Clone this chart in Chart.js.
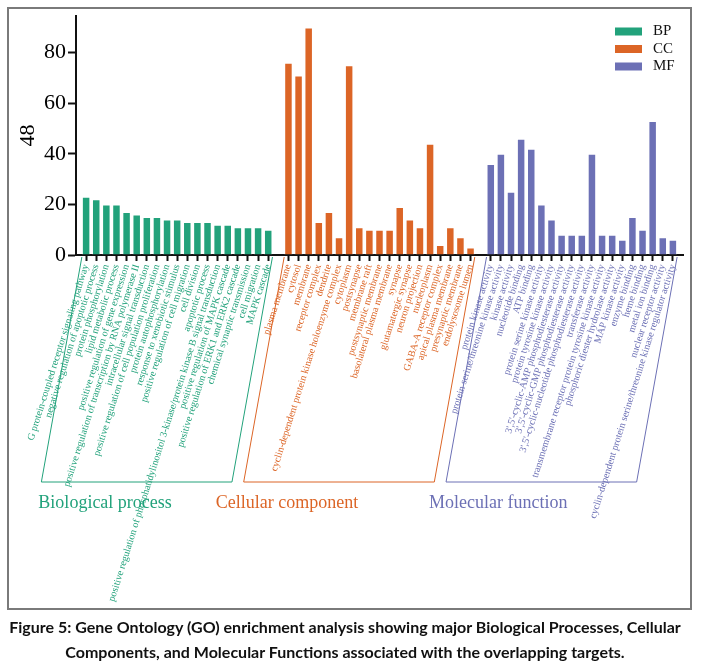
<!DOCTYPE html>
<html>
<head>
<meta charset="utf-8">
<script src="https://cdn.jsdelivr.net/npm/chart.js@4.4.1/dist/chart.umd.min.js"></script>
<style>
  body { margin: 0; background: #fff; width: 702px; height: 671px; position: relative; overflow: hidden; }
  #frame { position: absolute; left: 7px; top: 7px; width: 681px; height: 599px; border: 2px solid #7a7a7a; }
  #graf { position: absolute; left: 0; top: 0; }
  #caption { position: absolute; left: -6px; top: 614px; width: 702px; text-align: center;
             font-family: Lato, "Open Sans", sans-serif; font-weight: bold; font-size: 16px; line-height: 25px; color: #111; }
</style>
</head>
<body>
<div id="frame"></div>
<canvas id="graf" width="702" height="671"></canvas>
<div id="caption">Figure 5: Gene Ontology (GO) enrichment analysis showing major Biological Processes, Cellular<br>Components, and Molecular Functions associated with the overlapping targets.</div>
<script>
// terminos GO y conteos por grupo
const bpTerms = ["G protein-coupled receptor signaling pathway","negative regulation of apoptotic process","protein phosphorylation","lipid metabolic process","positive regulation of gene expression","positive regulation of transcription by RNA polymerase II","intracellular signal transduction","positive regulation of cell population proliferation","protein autophosphorylation","response to xenobiotic stimulus","positive regulation of cell migration","cell division","apoptotic process","positive regulation of phosphatidylinositol 3-kinase/protein kinase B signal transduction","positive regulation of MAPK cascade","positive regulation of ERK1 and ERK2 cascade","chemical synaptic transmission","cell migration","MAPK cascade"]
const bpCounts = [23,22,20,20,17,16,15,15,14,14,13,13,13,12,12,11,11,11,10]

const ccTerms = ["plasma membrane","cytosol","membrane","receptor complex","dendrite","cyclin-dependent protein kinase holoenzyme complex","cytoplasm","postsynapse","membrane raft","postsynaptic membrane","basolateral plasma membrane","synapse","glutamatergic synapse","neuron projection","nucleoplasm","GABA-A receptor complex","apical plasma membrane","presynaptic membrane","endolysosome lumen"]
const ccCounts = [76,71,90,13,17,7,75,11,10,10,10,19,14,11,44,4,11,7,3]

const mfTerms = ["protein kinase activity","protein serine/threonine kinase activity","kinase activity","nucleotide binding","ATP binding","protein serine kinase activity","protein tyrosine kinase activity","3',5'-cyclic-AMP phosphodiesterase activity","3',5'-cyclic-GMP phosphodiesterase activity","3',5'-cyclic-nucleotide phosphodiesterase activity","transferase activity","transmembrane receptor protein tyrosine kinase activity","phosphoric diester hydrolase activity","MAP kinase activity","enzyme binding","heme binding","metal ion binding","nuclear receptor activity","cyclin-dependent protein serine/threonine kinase regulator activity"]
const mfCounts = [36,40,25,46,42,20,14,8,8,8,40,8,8,6,15,10,53,7,6]

const grupos = ['BP','CC','MF']
const nombres = ['Biological process','Cellular component','Molecular function']
const colores = ['#22a27b','#dc6526','#6c70b5']
const yTicks = [0,20,40,60,80]
const yTitulo = '48'

// armar etiquetas con huecos entre grupos
const labels = ['']
const grupoDe = [-1]
const valores = [[null],[null],[null]]
;[[bpTerms,bpCounts],[ccTerms,ccCounts],[mfTerms,mfCounts]].forEach(([t,c],g) => {
    t.forEach((term,i) => {
        labels.push(term)
        grupoDe.push(g)
        for (let k = 0; k < 3; k++) valores[k].push(k === g ? c[i] : null)
    })
    labels.push('')
    grupoDe.push(-1)
    for (let k = 0; k < 3; k++) valores[k].push(null)
})

// cajas inclinadas y titulos de grupo
const cajasPlugin = {
    id: 'cajas',
    afterDraw(chart) {
        const ctx = chart.ctx
        const area = chart.chartArea
        const topY = area.bottom + 2
        const botY = 482
        const shift = 40.5
        const offTitulo = [-3, -28, -17]
        grupos.forEach((g,gi) => {
            const idx = grupoDe.map((v,i) => v === gi ? i : -1).filter(i => i >= 0)
            const meta = chart.getDatasetMeta(gi)
            const b0 = meta.data[idx[0]], b1 = meta.data[idx[idx.length-1]]
            const x0 = b0.x - b0.width/2, x1 = b1.x + b1.width/2
            ctx.save()
            ctx.strokeStyle = colores[gi]
            ctx.lineWidth = 1
            ctx.beginPath()
            ctx.moveTo(x0, topY)
            ctx.lineTo(x0 - shift, botY)
            ctx.lineTo(x1 - shift, botY)
            ctx.lineTo(x1, topY)
            ctx.stroke()
            ctx.fillStyle = colores[gi]
            ctx.font = '18px "Liberation Serif", "Times New Roman", serif'
            ctx.textBaseline = 'middle'
            ctx.textAlign = 'left'
            ctx.fillText(nombres[gi], x0 - shift + offTitulo[gi], 503)
            ctx.restore()
        })
        // leyenda
        ctx.save()
        ctx.font = '15px "Liberation Serif", "Times New Roman", serif'
        ctx.textBaseline = 'middle'
        chart.data.datasets.forEach((ds,i) => {
            const y = 31.5 + i*17.5
            ctx.fillStyle = ds.backgroundColor
            ctx.fillRect(615, y - 4, 27, 8)
            ctx.fillStyle = '#111'
            ctx.fillText(ds.label, 653, y)
        })
        ctx.restore()
    }
}

const ctx = document.getElementById('graf').getContext('2d')

const data = {
    labels: labels,
    datasets: grupos.map((g,i) => ({
        label: g,
        data: valores[i],
        backgroundColor: colores[i],
        borderColor: 'rgba(255,255,255,0.55)',
        borderWidth: 1,
        grouped: false,
        categoryPercentage: 1,
        barPercentage: 0.84
    }))
}

const options = {
    responsive: false,
    animation: false,
    layout: { padding: { top: 16, right: 19, left: 0, bottom: 0 } },
    plugins: {
        legend: { display: false },
        tooltip: { enabled: false }
    },
    scales: {
        x: {
            offset: false,
            grid: {
                offset: false,
                drawOnChartArea: false,
                drawTicks: true,
                tickLength: 6,
                tickWidth: 2,
                tickColor: c => grupoDe[c.index] >= 0 ? '#111' : 'rgba(0,0,0,0)'
            },
            border: { color: '#111', width: 2 },
            ticks: {
                autoSkip: false,
                minRotation: 72.5,
                maxRotation: 72.5,
                padding: 2,
                font: { family: '"Liberation Serif", serif', size: 10 },
                color: c => grupoDe[c.index] >= 0 ? colores[grupoDe[c.index]] : '#000'
            },
            afterFit: s => { s.height = 671 - 255 }
        },
        y: {
            min: 0,
            max: 94.5,
            grid: { drawOnChartArea: false, drawTicks: true, tickLength: 8, tickWidth: 2, tickColor: '#111' },
            border: { color: '#111', width: 2 },
            ticks: {
                stepSize: 20,
                padding: 2,
                color: '#000',
                font: { family: '"Liberation Serif", serif', size: 22 }
            },
            afterBuildTicks: s => { s.ticks = yTicks.map(v => ({ value: v })) },
            title: {
                display: true,
                text: yTitulo,
                color: '#000',
                font: { family: '"Liberation Serif", serif', size: 22 },
                padding: { top: 15, bottom: 0 }
            },
            afterFit: s => { s.width = 76 }
        }
    }
}

new Chart(ctx, { type: 'bar', data, options, plugins: [cajasPlugin] })
</script>
</body>
</html>
